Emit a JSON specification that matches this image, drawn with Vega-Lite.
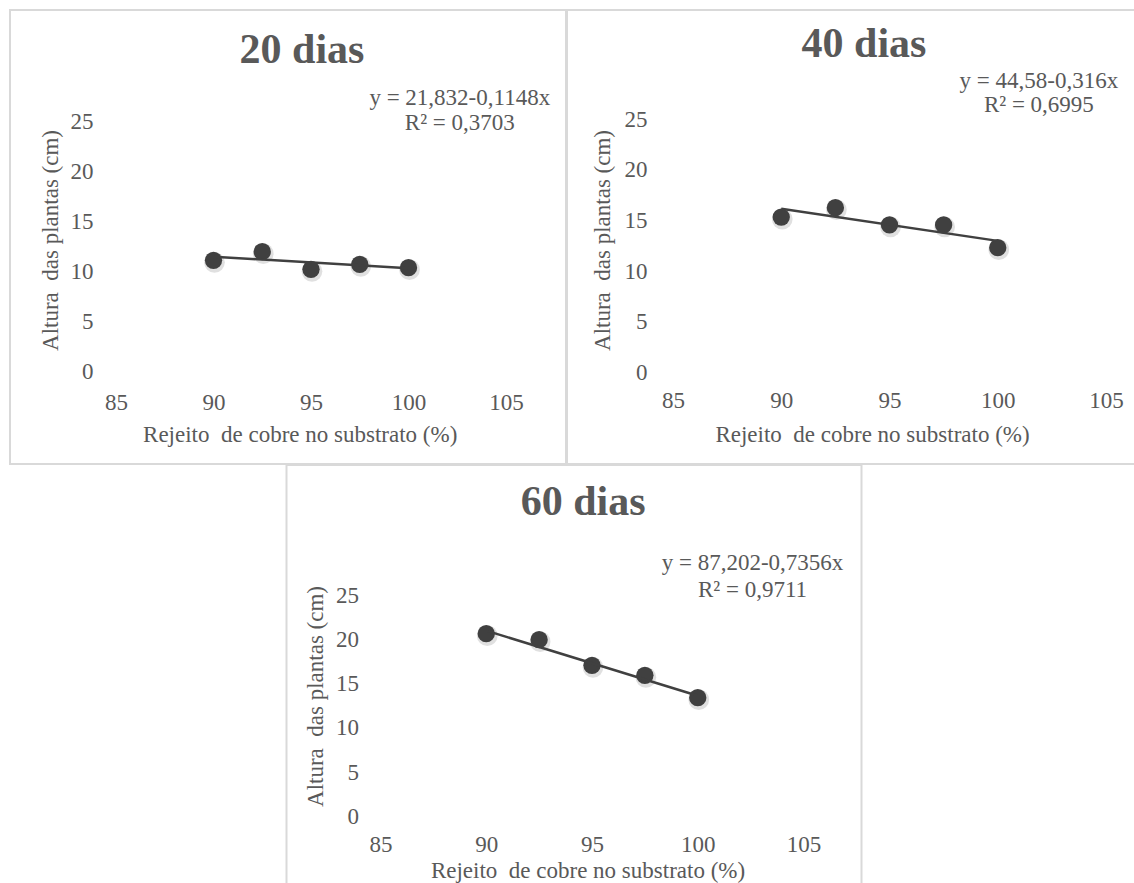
{
  "$schema": "https://vega.github.io/schema/vega-lite/v6.json",
  "padding": {"left": 9, "top": 9, "right": 0, "bottom": 0},
  "background": "white",
  "config": {
    "font": "Liberation Serif",
    "view": {"stroke": "#d9d9d9", "strokeWidth": 2},
    "axis": {"grid": false, "domain": false, "ticks": false, "tickSize": 0, "labelFont": "Liberation Serif", "labelFontSize": 23, "labelColor": "#595959", "titleFont": "Liberation Serif", "titleFontSize": 23, "titleFontWeight": "normal", "titleColor": "#595959", "labelOverlap": false, "labelFlush": false},
    "title": {"font": "Liberation Serif", "fontSize": 42, "fontWeight": "bold", "color": "#595959", "anchor": "middle", "frame": "group", "baseline": "alphabetic"},
    "text": {"font": "Liberation Serif", "fontSize": 23, "color": "#595959", "align": "center", "baseline": "alphabetic"}
  },
  "datasets": {
    "pts": [
      {"panel": "20 dias", "x": 90, "y": 11.14},
      {"panel": "20 dias", "x": 92.5, "y": 12.0},
      {"panel": "20 dias", "x": 95, "y": 10.24},
      {"panel": "20 dias", "x": 97.5, "y": 10.74},
      {"panel": "20 dias", "x": 100, "y": 10.4},
      {"panel": "40 dias", "x": 90, "y": 15.33},
      {"panel": "40 dias", "x": 92.5, "y": 16.25},
      {"panel": "40 dias", "x": 95, "y": 14.55},
      {"panel": "40 dias", "x": 97.5, "y": 14.55},
      {"panel": "40 dias", "x": 100, "y": 12.31},
      {"panel": "60 dias", "x": 90, "y": 20.66},
      {"panel": "60 dias", "x": 92.5, "y": 19.98},
      {"panel": "60 dias", "x": 95, "y": 17.08},
      {"panel": "60 dias", "x": 97.5, "y": 15.95},
      {"panel": "60 dias", "x": 100, "y": 13.42}
    ],
    "fit": [
      {"panel": "20 dias", "x": 90, "y": 11.5},
      {"panel": "20 dias", "x": 100, "y": 10.352},
      {"panel": "40 dias", "x": 90, "y": 16.14},
      {"panel": "40 dias", "x": 100, "y": 12.98},
      {"panel": "60 dias", "x": 90, "y": 20.998},
      {"panel": "60 dias", "x": 100, "y": 13.642}
    ]
  },
  "spacing": -2,
  "center": true,
  "vconcat": [
    {
      "spacing": -2,
      "hconcat": [
        {
          "width": 556, "height": 454,
          "title": {"text": "20 dias", "offset": -62, "dx": 14},
          "layer": [
            {
              "data": {"name": "pts"}, "transform": [{"filter": "datum.panel === '20 dias'"}],
              "mark": {"type": "circle", "color": "#000000", "opacity": 0.12, "size": 430, "xOffset": 1, "yOffset": 2},
              "encoding": {
                "x": {"field": "x", "type": "quantitative", "scale": {"domain": [85, 105], "range": [106, 496], "nice": false, "zero": false},
                      "axis": {"values": [85, 90, 95, 100, 105], "offset": -92.3, "labelPadding": 37.6, "labelBaseline": "alphabetic", "title": "Rejeito\u00a0 de cobre no substrato (%)", "titleX": 289.7, "titleY": 69.8, "titleBaseline": "alphabetic", "titleAlign": "center"}},
                "y": {"field": "y", "type": "quantitative", "scale": {"domain": [0, 25], "range": [361.7, 111.7], "nice": false, "zero": false},
                      "axis": {"values": [0, 5, 10, 15, 20, 25], "offset": -106, "labelPadding": 23, "labelBaseline": "middle", "title": "Altura\u00a0 das plantas (cm)", "titleX": -59, "titleY": 230, "titleAngle": 270, "titleBaseline": "alphabetic", "titleAlign": "center"}}
              }
            },
            {
              "data": {"name": "pts"}, "transform": [{"filter": "datum.panel === '20 dias'"}],
              "mark": {"type": "circle", "color": "#404040", "opacity": 1, "size": 300},
              "encoding": {
                "x": {"field": "x", "type": "quantitative", "scale": {"domain": [85, 105], "range": [106, 496], "nice": false, "zero": false}},
                "y": {"field": "y", "type": "quantitative", "scale": {"domain": [0, 25], "range": [361.7, 111.7], "nice": false, "zero": false}}
              }
            },
            {
              "data": {"name": "fit"}, "transform": [{"filter": "datum.panel === '20 dias'"}],
              "mark": {"type": "line", "color": "#404040", "strokeWidth": 2.5},
              "encoding": {
                "x": {"field": "x", "type": "quantitative", "scale": {"domain": [85, 105], "range": [106, 496], "nice": false, "zero": false}},
                "y": {"field": "y", "type": "quantitative", "scale": {"domain": [0, 25], "range": [361.7, 111.7], "nice": false, "zero": false}}
              }
            },
            {
              "data": {"values": [{}]},
              "mark": {"type": "text"},
              "encoding": {
                "x": {"datum": 102.63, "type": "quantitative", "scale": {"domain": [85, 105], "range": [106, 496], "nice": false, "zero": false}},
                "y": {"datum": 26.64, "type": "quantitative", "scale": {"domain": [0, 25], "range": [361.7, 111.7], "nice": false, "zero": false}},
                "text": {"value": "y = 21,832-0,1148x"}
              }
            },
            {
              "data": {"values": [{}]},
              "mark": {"type": "text"},
              "encoding": {
                "x": {"datum": 102.63, "type": "quantitative", "scale": {"domain": [85, 105], "range": [106, 496], "nice": false, "zero": false}},
                "y": {"datum": 24.14, "type": "quantitative", "scale": {"domain": [0, 25], "range": [361.7, 111.7], "nice": false, "zero": false}},
                "text": {"value": "R² = 0,3703"}
              }
            }
          ]
        },
        {
          "width": 571, "height": 454,
          "title": {"text": "40 dias", "offset": -56, "dx": 11.5},
          "layer": [
            {
              "data": {"name": "pts"}, "transform": [{"filter": "datum.panel === '40 dias'"}],
              "mark": {"type": "circle", "color": "#000000", "opacity": 0.12, "size": 430, "xOffset": 1, "yOffset": 2},
              "encoding": {
                "x": {"field": "x", "type": "quantitative", "scale": {"domain": [85, 105], "range": [106, 539], "nice": false, "zero": false},
                      "axis": {"values": [85, 90, 95, 100, 105], "offset": -91.5, "labelPadding": 35.4, "labelBaseline": "alphabetic", "title": "Rejeito\u00a0 de cobre no substrato (%)", "titleX": 305, "titleY": 69, "titleBaseline": "alphabetic", "titleAlign": "center"}},
                "y": {"field": "y", "type": "quantitative", "scale": {"domain": [0, 25], "range": [362.5, 109], "nice": false, "zero": false},
                      "axis": {"values": [0, 5, 10, 15, 20, 25], "offset": -106, "labelPadding": 26, "labelBaseline": "middle", "title": "Altura\u00a0 das plantas (cm)", "titleX": -63.5, "titleY": 230, "titleAngle": 270, "titleBaseline": "alphabetic", "titleAlign": "center"}}
              }
            },
            {
              "data": {"name": "pts"}, "transform": [{"filter": "datum.panel === '40 dias'"}],
              "mark": {"type": "circle", "color": "#404040", "opacity": 1, "size": 300},
              "encoding": {
                "x": {"field": "x", "type": "quantitative", "scale": {"domain": [85, 105], "range": [106, 539], "nice": false, "zero": false}},
                "y": {"field": "y", "type": "quantitative", "scale": {"domain": [0, 25], "range": [362.5, 109], "nice": false, "zero": false}}
              }
            },
            {
              "data": {"name": "fit"}, "transform": [{"filter": "datum.panel === '40 dias'"}],
              "mark": {"type": "line", "color": "#404040", "strokeWidth": 2.5},
              "encoding": {
                "x": {"field": "x", "type": "quantitative", "scale": {"domain": [85, 105], "range": [106, 539], "nice": false, "zero": false}},
                "y": {"field": "y", "type": "quantitative", "scale": {"domain": [0, 25], "range": [362.5, 109], "nice": false, "zero": false}}
              }
            },
            {
              "data": {"values": [{}]},
              "mark": {"type": "text"},
              "encoding": {
                "x": {"datum": 101.9, "type": "quantitative", "scale": {"domain": [85, 105], "range": [106, 539], "nice": false, "zero": false}},
                "y": {"datum": 28.1, "type": "quantitative", "scale": {"domain": [0, 25], "range": [362.5, 109], "nice": false, "zero": false}},
                "text": {"value": "y = 44,58-0,316x"}
              }
            },
            {
              "data": {"values": [{}]},
              "mark": {"type": "text"},
              "encoding": {
                "x": {"datum": 101.9, "type": "quantitative", "scale": {"domain": [85, 105], "range": [106, 539], "nice": false, "zero": false}},
                "y": {"datum": 25.65, "type": "quantitative", "scale": {"domain": [0, 25], "range": [362.5, 109], "nice": false, "zero": false}},
                "text": {"value": "R² = 0,6995"}
              }
            }
          ]
        }
      ]
    },
    {
      "width": 575, "height": 430,
      "title": {"text": "60 dias", "offset": -59, "dx": 9.1},
      "layer": [
        {
          "data": {"name": "pts"}, "transform": [{"filter": "datum.panel === '60 dias'"}],
          "mark": {"type": "circle", "color": "#000000", "opacity": 0.12, "size": 430, "xOffset": 1, "yOffset": 2},
          "encoding": {
            "x": {"field": "x", "type": "quantitative", "scale": {"domain": [85, 105], "range": [94, 517], "nice": false, "zero": false},
                  "axis": {"values": [85, 90, 95, 100, 105], "offset": -78.7, "labelPadding": 35, "labelBaseline": "alphabetic", "title": "Rejeito\u00a0 de cobre no substrato (%)", "titleX": 301, "titleY": 60.7, "titleBaseline": "alphabetic", "titleAlign": "center"}},
            "y": {"field": "y", "type": "quantitative", "scale": {"domain": [0, 25], "range": [351.3, 130.3], "nice": false, "zero": false},
                  "axis": {"values": [0, 5, 10, 15, 20, 25], "offset": -94, "labelPadding": 22, "labelBaseline": "middle", "title": "Altura\u00a0 das plantas (cm)", "titleX": -58, "titleY": 231, "titleAngle": 270, "titleBaseline": "alphabetic", "titleAlign": "center"}}
          }
        },
        {
          "data": {"name": "pts"}, "transform": [{"filter": "datum.panel === '60 dias'"}],
          "mark": {"type": "circle", "color": "#404040", "opacity": 1, "size": 300},
          "encoding": {
            "x": {"field": "x", "type": "quantitative", "scale": {"domain": [85, 105], "range": [94, 517], "nice": false, "zero": false}},
            "y": {"field": "y", "type": "quantitative", "scale": {"domain": [0, 25], "range": [351.3, 130.3], "nice": false, "zero": false}}
          }
        },
        {
          "data": {"name": "fit"}, "transform": [{"filter": "datum.panel === '60 dias'"}],
          "mark": {"type": "line", "color": "#404040", "strokeWidth": 2.5},
          "encoding": {
            "x": {"field": "x", "type": "quantitative", "scale": {"domain": [85, 105], "range": [94, 517], "nice": false, "zero": false}},
            "y": {"field": "y", "type": "quantitative", "scale": {"domain": [0, 25], "range": [351.3, 130.3], "nice": false, "zero": false}}
          }
        },
        {
          "data": {"values": [{}]},
          "mark": {"type": "text"},
          "encoding": {
            "x": {"datum": 102.59, "type": "quantitative", "scale": {"domain": [85, 105], "range": [94, 517], "nice": false, "zero": false}},
            "y": {"datum": 27.87, "type": "quantitative", "scale": {"domain": [0, 25], "range": [351.3, 130.3], "nice": false, "zero": false}},
            "text": {"value": "y = 87,202-0,7356x"}
          }
        },
        {
          "data": {"values": [{}]},
          "mark": {"type": "text"},
          "encoding": {
            "x": {"datum": 102.59, "type": "quantitative", "scale": {"domain": [85, 105], "range": [94, 517], "nice": false, "zero": false}},
            "y": {"datum": 24.85, "type": "quantitative", "scale": {"domain": [0, 25], "range": [351.3, 130.3], "nice": false, "zero": false}},
            "text": {"value": "R² = 0,9711"}
          }
        }
      ]
    }
  ]
}
